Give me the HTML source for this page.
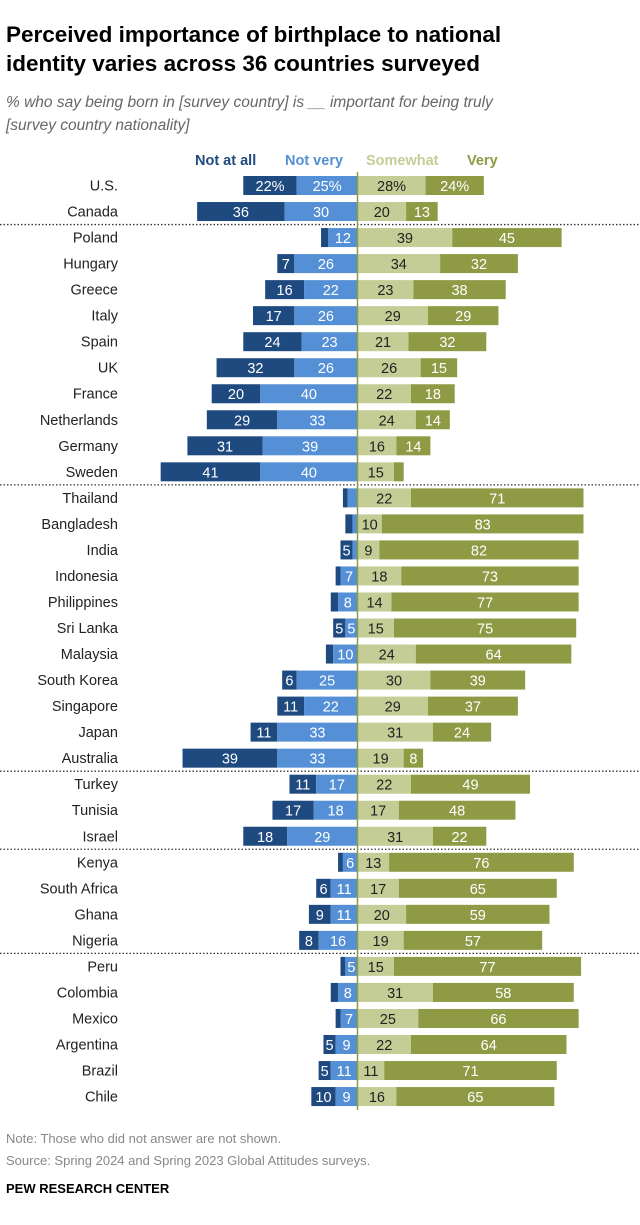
<!DOCTYPE html>
<html><head><meta charset="utf-8"><style>
body{margin:0;width:640px;height:1225px;background:#fff;font-family:"Liberation Sans",sans-serif;position:relative;overflow:hidden}
.t{position:absolute;left:6px;top:20px;font-size:22.5px;font-weight:bold;line-height:29px;color:#000;width:550px}
.s{position:absolute;left:6px;top:91px;font-size:15.5px;font-style:italic;color:#666;line-height:23px;width:634px;white-space:nowrap}
.n{position:absolute;left:6px;font-size:13px;color:#888}
.p{position:absolute;left:6px;top:1181px;font-size:13px;font-weight:bold;color:#000}
</style></head><body>
<div class="t">Perceived importance of birthplace to national identity varies across 36 countries surveyed</div>
<div class="s">% who say being born in [survey country] is __ important for being truly<br>[survey country nationality]</div>
<svg id="c" width="640" height="1225" style="position:absolute;left:0;top:0"></svg>
<div class="n" style="top:1131px">Note: Those who did not answer are not shown.</div>
<div class="n" style="top:1153px">Source: Spring 2024 and Spring 2023 Global Attitudes surveys.</div>
<div class="p">PEW RESEARCH CENTER</div>
<script>
const countries=["U.S.","Canada","Poland","Hungary","Greece","Italy","Spain","UK","France","Netherlands","Germany","Sweden","Thailand","Bangladesh","India","Indonesia","Philippines","Sri Lanka","Malaysia","South Korea","Singapore","Japan","Australia","Turkey","Tunisia","Israel","Kenya","South Africa","Ghana","Nigeria","Peru","Colombia","Mexico","Argentina","Brazil","Chile"];
const notAtAll=[22,36,3,7,16,17,24,32,20,29,31,41,2,3,5,2,3,5,3,6,11,11,39,11,17,18,2,6,9,8,2,3,2,5,5,10];
const notVery=[25,30,12,26,22,26,23,26,40,33,39,40,4,2,2,7,8,5,10,25,22,33,33,17,18,29,6,11,11,16,5,8,7,9,11,9];
const somewhat=[28,20,39,34,23,29,21,26,22,24,16,15,22,10,9,18,14,15,24,30,29,31,19,22,17,31,13,17,20,19,15,31,25,22,11,16];
const very=[24,13,45,32,38,29,32,15,18,14,14,4,71,83,82,73,77,75,64,39,37,24,8,49,48,22,76,65,59,57,77,58,66,64,71,65];
const groupBreaks=[2,12,23,26,30];
const svg=document.getElementById('c');const NS='http://www.w3.org/2000/svg';
const X0=357.5,K=2.43,Y0=185.5,DY=26.03,H=19;
const x=v=>X0+v*K, y=i=>Y0+i*DY;
function el(t,a){const e=document.createElementNS(NS,t);for(const k in a)e.setAttribute(k,a[k]);svg.appendChild(e);return e;}
function tx(s,xx,yy,c,anc,w){const e=el('text',{x:xx,y:yy,fill:c,'text-anchor':anc,'font-size':14.5,'font-family':'Liberation Sans, sans-serif','font-weight':w||'normal'});e.textContent=s;return e;}
const legs=[["Not at all",195,"#1f4a7f"],["Not very",285,"#5590d6"],["Somewhat",366,"#c4cd95"],["Very",467,"#8f9a45"]];
legs.forEach(l=>{const e=tx(l[0],l[1],165,l[2],'start','bold');

});
groupBreaks.forEach(b=>{const e=el('line',{x1:0,x2:640,y1:y(b)-13,y2:y(b)-13,stroke:'#333','stroke-width':1.3,'stroke-dasharray':'1.5,2'});

});
countries.forEach((c,i)=>{
const cy=y(i),top=cy-H/2,pct=i==0?'%':'';
const lab=tx(c,118,cy+5,'#222','end');


const segs=[[x(-notAtAll[i]-notVery[i]),notAtAll[i],'#1f4a7f','#fff','bar-not-at-all'],[x(-notVery[i]),notVery[i],'#5590d6','#fff','bar-not-very'],[x(0),somewhat[i],'#c4cd95','#222','bar-somewhat'],[x(somewhat[i]),very[i],'#8f9a45','#fff','bar-very']];
segs.forEach(s=>{const r=el('rect',{x:s[0],y:top,width:s[1]*K,height:H,fill:s[2]});


if(s[1]>=5){const t=tx(s[1]+pct,s[0]+s[1]*K/2,cy+5.5,s[3],'middle');

}});
});
const ax=el('line',{x1:X0,x2:X0,y1:172,y2:1110,stroke:'#8f9a45','stroke-width':1.5});


</script>
</body></html>
